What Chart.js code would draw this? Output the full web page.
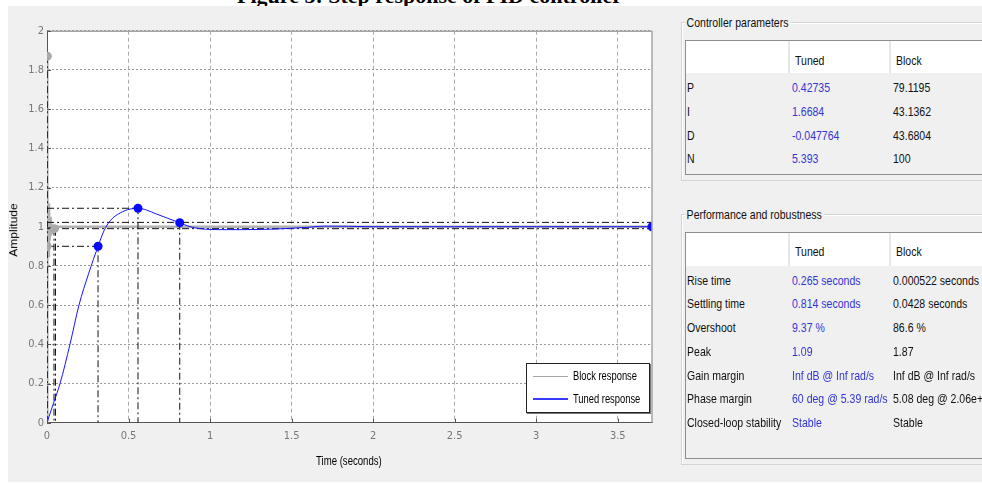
<!DOCTYPE html>
<html><head><meta charset="utf-8">
<script src="https://cdn.jsdelivr.net/npm/chart.js@4/dist/chart.umd.min.js"></script>
<style>
html,body{margin:0;padding:0;background:#fff;}
body{width:982px;height:484px;position:relative;overflow:hidden;font-family:"Liberation Sans",Arial,sans-serif;}
#bg{position:absolute;left:8px;top:6px;width:974px;height:476px;background:#f0f0f0;}
#fig{position:absolute;left:0;top:0;width:982px;height:6px;overflow:hidden;background:#fff;}
#fig div{position:absolute;left:237px;top:-17px;line-height:22px;font:bold 22px "Liberation Serif","Times New Roman",serif;white-space:nowrap;color:#000;}
#c{position:absolute;left:8px;top:6px;}
.t{position:absolute;white-space:nowrap;font-size:13px;line-height:20px;height:20px;transform:scaleX(0.81);transform-origin:0 50%;color:#111;}
.blue{color:#3434d6;}
.grp{position:absolute;left:681px;width:320px;border:1px solid #d4d4d4;box-shadow:inset 1px 1px 0 #fff;}
.gtitle{position:absolute;left:685px;background:#f0f0f0;padding:0 2px;}
.tbl{position:absolute;left:685px;width:320px;border:1px solid #8e8e8e;border-right:none;}
.hdr{position:absolute;left:686px;width:300px;background:#fff;}
.sep{position:absolute;width:2px;background:#e3e8ef;}
#legend{position:absolute;left:526px;top:363px;width:122px;height:48px;border:1px solid #222;background:#fff;box-shadow:1px 1px 0 #777;}
.lg{position:absolute;height:0;}
.lt{position:absolute;white-space:nowrap;font-size:12px;line-height:16px;transform:scaleX(0.78);transform-origin:0 50%;color:#000;}
.axt{position:absolute;white-space:nowrap;font-size:12px;line-height:16px;color:#000;}
</style></head>
<body>
<div id="fig"><div>Figure 5: Step response of PID controller</div></div>
<div id="bg"></div>
<canvas id="c" width="662" height="476"></canvas>
<div id="legend"></div>
<div class="axt" id="xt" style="left:316px;top:453px;transform:scaleX(0.8);transform-origin:0 50%;">Time (seconds)</div>
<div class="axt" id="yt" style="left:-18px;top:222px;transform:rotate(-90deg) scaleY(0.85);transform-origin:50% 50%;width:64px;text-align:center;">Amplitude</div>
<div id="panel"></div>
<script>
// ---------- data ----------
const timeMin = 0, timeMax = 3.71, timeStep = 0.5;
const ampMin = 0, ampMax = 2, ampStep = 0.2;

const tunedTime = [0, 0.04, 0.08, 0.141, 0.196, 0.255, 0.313, 0.35, 0.387, 0.448, 0.51, 0.558, 0.61, 0.67, 0.74, 0.814, 0.877, 0.94, 1.0, 1.1, 1.2, 1.3, 1.4, 1.5, 1.6, 1.7, 1.85, 2.0, 2.5, 3.0, 3.5, 3.71];
const tunedAmp  = [0, 0.1, 0.2, 0.4, 0.6, 0.76, 0.9, 0.98, 1.03, 1.07, 1.09, 1.094, 1.085, 1.065, 1.043, 1.02, 1.0, 0.99, 0.986, 0.985, 0.985, 0.986, 0.988, 0.992, 0.997, 1.003, 1.002, 1.0, 1.0, 1.0, 1.0, 1.0];

const blockTime = [0, 0.0005, 0.001, 0.002, 0.003, 0.005, 0.008, 0.012, 0.016, 0.022, 0.03, 0.0428, 0.06, 0.1, 3.71];
const blockAmp  = [0, 0.9, 1.5, 1.87, 1.7, 1.2, 0.85, 1.12, 0.93, 1.05, 0.97, 0.99, 1.0, 1.0, 1.0];

const tunedMarkT = [0.313, 0.558, 0.814, 3.71];
const tunedMarkY = [0.9, 1.094, 1.02, 1.0];
const blockMarkT = [0.002, 0.0005, 0.045];
const blockMarkY = [1.87, 0.9, 0.99];

// characteristic guide lines (dash-dot)
const riseGuideT   = [0, 0.313, 0.313];   const riseGuideY   = [0.9, 0.9, 0];
const peakGuideT   = [0, 0.558, 0.558];   const peakGuideY   = [1.094, 1.094, 0];
const settleGuideT = [0.814, 0.814];      const settleGuideY = [1.02, 0];
const bandHiT = [0, 3.71];  const bandHiY = [1.022, 1.022];
const bandLoT = [0, 3.71];  const bandLoY = [0.99, 0.99];
const blockPeakGuideT   = [0.002, 0.002];  const blockPeakGuideY   = [1.87, 0];
const blockSettleGuideT = [0.0428, 0.0428]; const blockSettleGuideY = [0.99, 0];
const blockExtraGuideT  = [0.052, 0.052];  const blockExtraGuideY  = [0.99, 0];

const legendLabels = ["Block response", "Tuned response"];

const paramNames = ["P", "I", "D", "N"];
const paramTuned = ["0.42735", "1.6684", "-0.047764", "5.393"];
const paramBlock = ["79.1195", "43.1362", "43.6804", "100"];

const perfNames = ["Rise time", "Settling time", "Overshoot", "Peak", "Gain margin", "Phase margin", "Closed-loop stability"];
const perfTuned = ["0.265 seconds", "0.814 seconds", "9.37 %", "1.09", "Inf dB @ Inf rad/s", "60 deg @ 5.39 rad/s", "Stable"];
const perfBlock = ["0.000522 seconds", "0.0428 seconds", "86.6 %", "1.87", "Inf dB @ Inf rad/s", "5.08 deg @ 2.06e+...", "Stable"];

// ---------- helpers ----------
const pts = (xs, ys) => xs.map((x, i) => ({x, y: ys[i]}));
const DASHDOT = [7, 3, 2, 3];
function guide(xs, ys) {
  return {data: pts(xs, ys), borderColor: '#111', borderWidth: 1, borderDash: DASHDOT, pointRadius: 0, order: 2, tension: 0, showLine: true};
}
const fmt = v => String(Math.round(v * 100) / 100);

// ---------- chart ----------
const frame = {
  id: 'frame',
  beforeDraw(chart) {
    const {ctx, chartArea: a} = chart;
    ctx.save(); ctx.fillStyle = '#fff';
    ctx.fillRect(a.left, a.top, a.right - a.left, a.bottom - a.top);
    ctx.restore();
  },
  afterDraw(chart) {
    const {ctx, chartArea: a, scales} = chart;
    ctx.save();
    ctx.strokeStyle = '#a4a4a4'; ctx.lineWidth = 1.5;
    ctx.beginPath();
    ctx.moveTo(a.left, a.top + 0.5); ctx.lineTo(a.right, a.top + 0.5);
    ctx.moveTo(a.right, a.top); ctx.lineTo(a.right, a.bottom);
    ctx.stroke();
    ctx.strokeStyle = '#555'; ctx.lineWidth = 1;
    ctx.beginPath();
    scales.x.ticks.forEach(t => { const p = Math.round(scales.x.getPixelForValue(t.value)) + 0.5; ctx.moveTo(p, a.bottom); ctx.lineTo(p, a.bottom - 4); });
    scales.y.ticks.forEach(t => { const p = Math.round(scales.y.getPixelForValue(t.value)) + 0.5; ctx.moveTo(a.left, p); ctx.lineTo(a.left + 4, p); });
    ctx.stroke();
    ctx.restore();
  }
};

const tickFont = {family: '"Liberation Sans Narrow","DejaVu Sans Condensed","Liberation Sans",Arial,sans-serif', size: 11};

new Chart(document.getElementById('c'), {
  type: 'scatter',
  data: {datasets: [
    {label: 'Tuned markers', data: pts(tunedMarkT, tunedMarkY), backgroundColor: '#0a0aff', borderWidth: 0, pointRadius: 4.5, showLine: false, order: 0},
    {label: 'Block markers', data: pts(blockMarkT, blockMarkY), backgroundColor: '#a9a9a9', borderWidth: 0, pointRadius: 4.5, showLine: false, order: 0.5},
    {label: legendLabels[1], data: pts(tunedTime, tunedAmp), borderColor: '#1414ff', borderWidth: 1, pointRadius: 0, showLine: true, cubicInterpolationMode: 'monotone', order: 1},
    guide(riseGuideT, riseGuideY), guide(peakGuideT, peakGuideY), guide(settleGuideT, settleGuideY),
    guide(bandHiT, bandHiY), guide(bandLoT, bandLoY),
    guide(blockPeakGuideT, blockPeakGuideY), guide(blockSettleGuideT, blockSettleGuideY), guide(blockExtraGuideT, blockExtraGuideY),
    {label: legendLabels[0], data: pts(blockTime, blockAmp), borderColor: '#b2b2b2', borderWidth: 2.5, pointRadius: 0, showLine: true, tension: 0, order: 3}
  ]},
  options: {
    responsive: false, animation: false, events: [],
    layout: {padding: {top: 24.7, right: 18, left: 0, bottom: 0}},
    plugins: {legend: {display: false}, tooltip: {enabled: false}},
    scales: {
      x: {type: 'linear', min: timeMin, max: timeMax,
          ticks: {stepSize: timeStep, includeBounds: false, color: '#777', font: tickFont, padding: 7, maxRotation: 0, callback: fmt},
          grid: {color: '#ababab', lineWidth: 1, drawTicks: false},
          border: {display: true, color: '#555', width: 1, dash: [4, 3]},
          afterFit(s) { s.height = 59.3; }},
      y: {type: 'linear', min: ampMin, max: ampMax,
          ticks: {stepSize: ampStep, color: '#777', font: tickFont, padding: 3, callback: fmt},
          grid: {color: '#9a9a9a', lineWidth: 1, drawTicks: false},
          border: {display: true, color: '#555', width: 1, dash: [2, 2]},
          afterFit(s) { s.width = 39; }}
    }
  },
  plugins: [frame]
});

// ---------- legend (html) ----------
const lg = document.getElementById('legend');
const lgColors = ['#a8a8a8', '#3a3aff'];
const lgWidths = [1, 2];
legendLabels.forEach((lab, i) => {
  const y = 12 + i * 23.3;
  const ln = document.createElement('div'); ln.className = 'lg';
  ln.style.cssText = `left:6px;top:${y - lgWidths[i] / 2}px;width:35px;border-top:${lgWidths[i]}px solid ${lgColors[i]};`;
  lg.appendChild(ln);
  const tx = document.createElement('div'); tx.className = 'lt';
  tx.style.left = '46px'; tx.style.top = (y - 8) + 'px'; tx.textContent = lab;
  lg.appendChild(tx);
});

// ---------- right panel ----------
const panel = document.getElementById('panel');
function add(cls, css, text) {
  const d = document.createElement('div'); d.className = cls; d.style.cssText = css;
  if (text !== undefined) d.textContent = text;
  panel.appendChild(d); return d;
}
function group(title, boxTop, boxBottom, tblTop, tblBottom, hdrBottom, hdrCenter, rowStart, names, tuned, block) {
  add('grp', `top:${boxTop}px;height:${boxBottom - boxTop}px;`);
  add('t gtitle', `top:${boxTop - 9}px;`, title);
  add('tbl', `top:${tblTop}px;height:${tblBottom - tblTop}px;`);
  add('hdr', `top:${tblTop + 1}px;height:${hdrBottom - tblTop - 1}px;`);
  add('sep', `left:788px;top:${tblTop + 1}px;height:${hdrBottom - tblTop - 1}px;`);
  add('sep', `left:889px;top:${tblTop + 1}px;height:${hdrBottom - tblTop - 1}px;`);
  add('t', `left:795px;top:${hdrCenter - 10}px;`, 'Tuned');
  add('t', `left:896px;top:${hdrCenter - 10}px;`, 'Block');
  names.forEach((n, i) => {
    const c = rowStart + i * 23.7;
    add('t', `left:686.5px;top:${c - 10}px;`, n);
    add('t blue', `left:791.5px;top:${c - 10}px;`, tuned[i]);
    add('t', `left:892.5px;top:${c - 10}px;`, block[i]);
  });
}
group('Controller parameters', 22, 179, 40, 173, 73, 60.7, 88.3, paramNames, paramTuned, paramBlock);
group('Performance and robustness', 214, 463, 232, 457, 265.5, 252.3, 280.7, perfNames, perfTuned, perfBlock);
</script>
</body></html>
